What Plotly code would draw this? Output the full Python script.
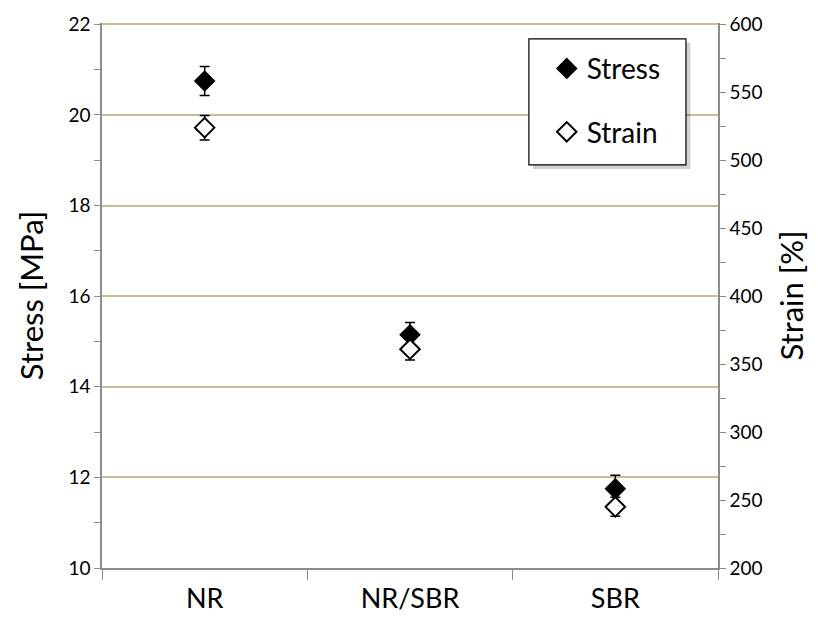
import plotly.graph_objects as go

categories = ["NR", "NR/SBR", "SBR"]
stress = [20.75, 15.15, 11.75]
stress_err = [0.32, 0.27, 0.3]
strain = [524, 361, 245]
strain_err = [9, 8, 7]

FONT = "Lato"
GRID = "#c4bd97"
AX = "#8c8c8c"

fig = go.Figure()
fig.add_trace(go.Scatter(
    x=categories, y=stress, name="Stress", mode="markers",
    marker=dict(symbol="diamond", size=15, color="black", line=dict(color="black", width=1.5)),
    error_y=dict(type="data", array=stress_err, color="black", thickness=1.5, width=5),
    legendgroup="a", yaxis="y"))
fig.add_trace(go.Scatter(
    x=categories, y=strain, name="Strain", mode="markers",
    marker=dict(symbol="diamond", size=15, color="white", line=dict(color="black", width=2)),
    error_y=dict(type="data", array=strain_err, color="black", thickness=1.5, width=5),
    legendgroup="b", yaxis="y2"))

# legend frame with soft shadow
fig.add_shape(type="rect", xref="paper", yref="paper", x0=0.700, x1=0.955, y0=0.732, y1=0.964,
              fillcolor="rgba(0,0,0,0.18)", line=dict(width=0), layer="above")
fig.add_shape(type="rect", xref="paper", yref="paper", x0=0.693, x1=0.948, y0=0.7395, y1=0.971,
              fillcolor="white", line=dict(color="black", width=1.2), layer="above")

fig.update_layout(
    width=819, height=627,
    margin=dict(l=102, r=101, t=19, b=59),
    paper_bgcolor="white", plot_bgcolor="white",
    font=dict(family=FONT, color="black"),
    showlegend=True,
    legend=dict(x=0.722, y=0.962, xanchor="left", yanchor="top",
                bgcolor="rgba(0,0,0,0)", borderwidth=0,
                font=dict(size=28, family=FONT), tracegroupgap=24,
                itemwidth=30),
    xaxis=dict(type="category", tickson="boundaries", ticks="outside", ticklen=10,
               tickcolor=AX, showline=True, linecolor=AX, linewidth=1.5,
               range=[-0.5, 2.5], tickfont=dict(size=27), showgrid=False,
               ticklabelstandoff=6),
    yaxis=dict(range=[10, 22.03], dtick=2, ticks="outside", ticklen=6, tickcolor=AX,
               showline=True, linecolor=AX, linewidth=1.5, showgrid=True,
               gridcolor=GRID, gridwidth=1.5, zeroline=False,
               tickfont=dict(size=19),
               minor=dict(dtick=1, ticks="outside", ticklen=6, tickcolor=AX, showgrid=False),
               title=dict(text="Stress [MPa]", font=dict(size=31), standoff=16)),
    yaxis2=dict(range=[200, 601], dtick=50, overlaying="y", side="right",
                ticks="outside", ticklen=6, tickcolor=AX, showline=True, linecolor=AX,
                linewidth=1.5, showgrid=False, zeroline=False, tickfont=dict(size=19),
                minor=dict(dtick=25, ticks="outside", ticklen=6, tickcolor=AX),
                title=dict(text="Strain [%]", font=dict(size=31), standoff=20)),
)

fig.write_html("out.html")
